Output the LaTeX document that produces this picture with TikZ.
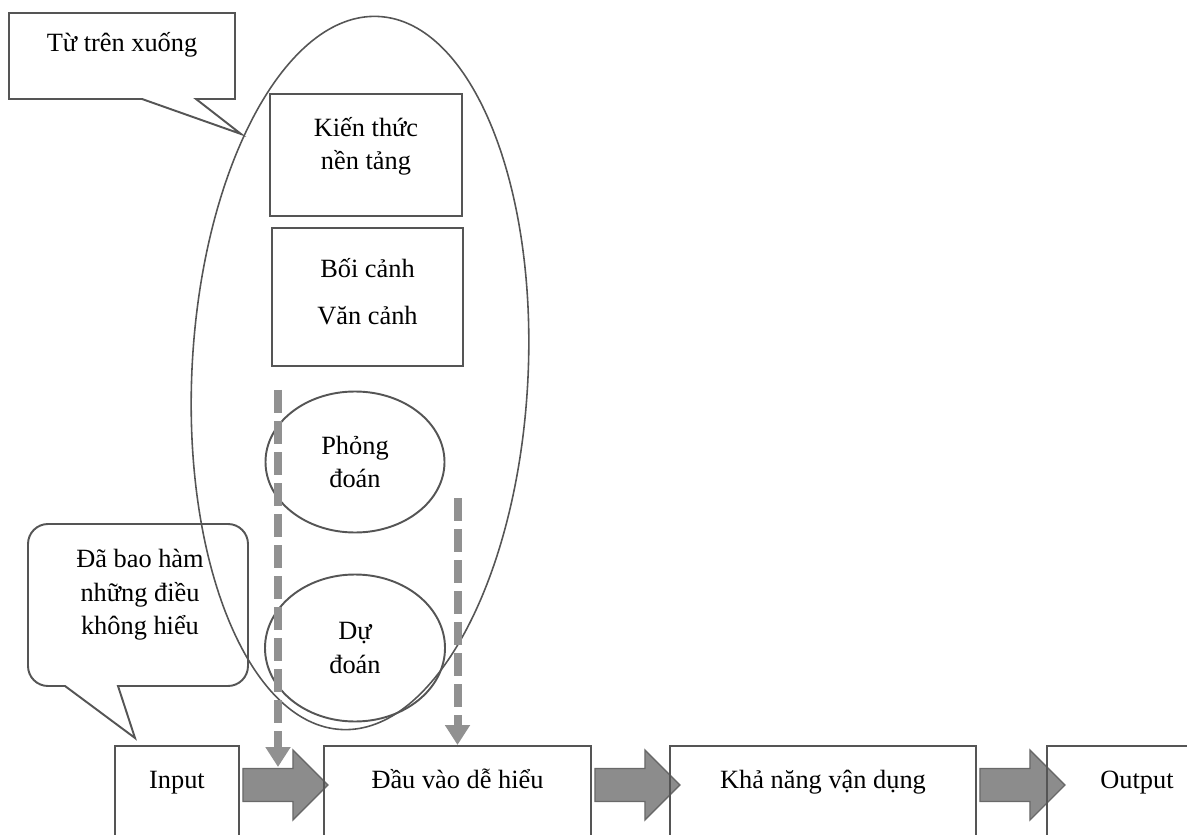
\documentclass[tikz,border=0pt]{standalone}
\usepackage{fontspec}
\setmainfont{Liberation Serif}
\definecolor{lineg}{RGB}{85,85,85}
\definecolor{dashg}{RGB}{145,145,145}
\definecolor{arrfill}{RGB}{140,140,140}
\definecolor{arrline}{RGB}{105,105,105}
\usetikzlibrary{arrows.meta,positioning,shapes.geometric,calc,backgrounds}

\begin{document}
\begin{tikzpicture}[font=\fontsize{15}{19}\selectfont,
  frame/.style={draw=lineg, line width=1.1pt},
  stage/.style={frame, anchor=north, inner xsep=0pt, inner ysep=0.15cm, text height=0.71cm, text depth=2cm},
  guess/.style={frame, ellipse, inner sep=0pt, align=center},
  fatarrow/.style={draw=arrline, fill=arrfill, line width=0.8pt},
  hint/.style={draw=dashg, line width=0.16cm, dash pattern=on 0.46cm off 0.16cm, -{Triangle[width=0.48cm,length=0.4cm]}}]
  \useasboundingbox (0,0) rectangle (23.74,16.68);
  \clip (0,0) rectangle (23.74,16.68);

  % callouts
  \draw[frame] (0.18,16.42) -- (4.70,16.42) -- (4.70,14.70) -- (3.92,14.70) -- (4.82,14.00) -- (2.84,14.70) -- (0.18,14.70) -- cycle;
  \node (topdowntext) at (2.44,15.78) {Từ trên xuống};
  \draw[frame] (1.30,2.96) -- (2.70,1.92) -- (2.36,2.96) -- (4.56,2.96) arc[start angle=270, end angle=360, radius=0.4]
    -- (4.96,5.80) arc[start angle=0, end angle=90, radius=0.4] -- (0.96,6.20) arc[start angle=90, end angle=180, radius=0.4]
    -- (0.56,3.36) arc[start angle=180, end angle=270, radius=0.4] -- cycle;
  \node[align=center] (unclear) at (2.80,4.78) {Đã bao hàm\\những điều\\không hiểu};

  % top-down zone
  \node[frame, line width=0.9pt, ellipse, minimum width=6.72cm, minimum height=14.28cm, rotate=-3] (topdown) at (7.2,9.22) {};
  \node[frame, minimum width=3.84cm, minimum height=2.44cm] (kt) at (7.32,13.58) {};
  \node[align=center] (kttext) at (7.32,13.76) {Kiến thức\\nền tảng};
  \node[frame, minimum width=3.82cm, minimum height=2.76cm] (bc) at (7.35,10.74) {};
  \node[align=center] (bctext) at (7.35,10.85) {Bối cảnh\\[0.27cm]Văn cảnh};
  \node[guess, minimum width=3.58cm, minimum height=2.82cm] (pd) at (7.10,7.44) {Phỏng\\đoán};
  \node[guess, minimum width=3.6cm, minimum height=2.94cm] (dd) at (7.10,3.72) {Dự\\đoán};

  % stages
  \node[stage, minimum width=2.48cm] (in) at (3.54,1.78) {Input};
  \node[stage, minimum width=5.34cm] (dv) at (9.15,1.78) {Đầu vào dễ hiểu};
  \node[stage, minimum width=6.12cm] (kn) at (16.46,1.78) {Khả năng vận dụng};
  \node[stage, minimum width=3.6cm] (out) at (22.74,1.78) {Output};

  \coordinate (ah) at (0,0.98);
  \begin{scope}[on background layer]
    \draw[fatarrow] ($(in.east|-ah)+(0.06,0.33)$) -- ++(1.0,0) -- ++(0,0.37) -- ++(0.7,-0.7) -- ++(-0.7,-0.7) -- ++(0,0.37) -- ++(-1.0,0) -- cycle;
    \draw[fatarrow] ($(dv.east|-ah)+(0.06,0.33)$) -- ++(1.0,0) -- ++(0,0.37) -- ++(0.7,-0.7) -- ++(-0.7,-0.7) -- ++(0,0.37) -- ++(-1.0,0) -- cycle;
    \draw[fatarrow] ($(kn.east|-ah)+(0.06,0.33)$) -- ++(1.0,0) -- ++(0,0.37) -- ++(0.7,-0.7) -- ++(-0.7,-0.7) -- ++(0,0.37) -- ++(-1.0,0) -- cycle;
  \end{scope}

  % dashed hints
  \coordinate (h1s) at (5.56,8.88);
  \coordinate (h1e) at (5.56,1.34);
  \draw[hint] (h1s) -- (h1e);
  \coordinate (h2s) at (9.15,6.72);
  \draw[hint] (h2s) -- (dv.north);
\end{tikzpicture}
\end{document}
